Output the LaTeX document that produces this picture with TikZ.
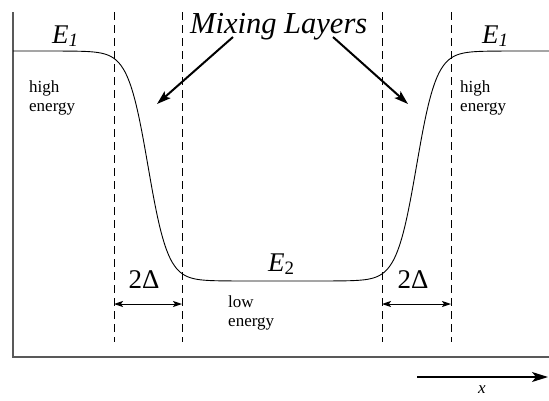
\documentclass[tikz,border=0pt]{standalone}
\usepackage{fontspec}
\setmainfont{Liberation Serif}
\usetikzlibrary{arrows.meta}
\tikzset{
  axisline/.style={draw=black!65, line width=1.8pt},
  guide/.style={draw=black, line width=0.9pt, dash pattern=on 8pt off 5pt},
  curveline/.style={draw=black, line width=0.9pt},
  bigarrow/.style={draw=black, line width=2pt, -{Stealth[length=14pt,width=9pt,inset=3pt]}},
  widtharrow/.style={draw=black, line width=1pt, {Stealth[length=9pt,width=6pt,inset=2pt]}-{Stealth[length=9pt,width=6pt,inset=2pt]}},
  xarrow/.style={draw=black, line width=1.2pt, -{Stealth[length=16pt,width=10pt,inset=4pt]}},
  lbl/.style={inner sep=0pt, font=\fontsize{17}{19}\selectfont, align=left},
  biglbl/.style={inner sep=0pt, font=\fontsize{27}{27}\selectfont},
}
\begin{document}
\begin{tikzpicture}[x=1pt,y=-1pt]
\useasboundingbox (0,0) rectangle (549,400);
% axes
\coordinate (ytop) at (13,12);
\coordinate (orig) at (13,357);
\coordinate (xend) at (549,357);
\draw[axisline] (ytop) -- (orig) -- (xend);
% dashed guides
\foreach \n/\xx in {a/114,b/182,c/382,d/451}{
  \coordinate (\n top) at (\xx,12);
  \coordinate (\n bot) at (\xx,342);
  \draw[guide] (\n top) -- (\n bot);
}
% energy curve
\draw[curveline] plot[domain=13:549, samples=260, smooth]
  (\x, {51 + 230*0.5*(tanh(max(-6,min(6,(\x-148)/20))) - tanh(max(-6,min(6,(\x-416.5)/20))))});
% labels
\node[biglbl, anchor=base west, font=\fontsize{30.5}{30.5}\selectfont\itshape] (mix) at (190,33) {Mixing Layers};
\node[biglbl, anchor=base west] (e1l) at (52,43) {\textit{E}\textsubscript{\textit{1}}};
\node[biglbl, anchor=base west] (e1r) at (482,43) {\textit{E}\textsubscript{\textit{1}}};
\node[biglbl, anchor=base west] (e2) at (268,271) {\textit{E}\textsubscript{2}};
\node[lbl, anchor=north west] (hl) at (29,80) {high\\energy};
\node[lbl, anchor=north west] (hr) at (460,80) {high\\energy};
\node[lbl, anchor=north west] (lo) at (228,295) {low\\energy};
% mixing arrows
\coordinate (m1s) at (233,37);
\coordinate (m1e) at (157,104);
\coordinate (m2s) at (333,37);
\coordinate (m2e) at (408,104);
\draw[bigarrow] (m1s) -- (m1e);
\draw[bigarrow] (m2s) -- (m2e);
% width markers
\node[biglbl, anchor=base] (dl) at (144,288) {2Δ};
\node[biglbl, anchor=base] (dr) at (413,288) {2Δ};
\coordinate (wl1) at (114,304);
\coordinate (wl2) at (182,304);
\coordinate (wr1) at (382,304);
\coordinate (wr2) at (451,304);
\draw[widtharrow] (wl1) -- (wl2);
\draw[widtharrow] (wr1) -- (wr2);
% x direction
\coordinate (xs) at (417,377);
\coordinate (xe) at (548,377);
\draw[xarrow] (xs) -- (xe);
\node[lbl, anchor=base, font=\fontsize{17}{17}\selectfont\itshape] (xl) at (482,393) {x};
\end{tikzpicture}
\end{document}
